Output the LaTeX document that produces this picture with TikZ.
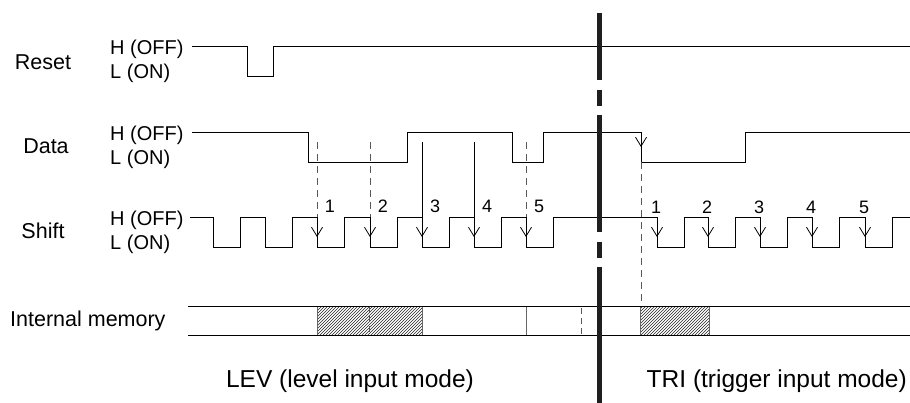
\documentclass[tikz,border=0pt]{standalone}
\usepackage{fontspec}
\setmainfont{Liberation Sans}
\usetikzlibrary{arrows.meta,patterns,positioning}

\tikzset{
  wave/.style={line width=0.9pt},
  signame/.style={font=\fontsize{21.5}{25}\selectfont,inner sep=0pt},
  lvl/.style={font=\fontsize{20}{24}\selectfont,anchor=west,inner sep=0pt},
  num/.style={font=\fontsize{18}{21}\selectfont,inner sep=0pt},
  modelabel/.style={font=\fontsize{24.5}{29}\selectfont,inner sep=0pt},
  trig/.style={line width=0.8pt,-{Straight Barb[length=9pt,width=11pt]}},
  guide/.style={line width=0.8pt,dash pattern=on 7pt off 5pt,draw=black!65},
  border/.style={line width=5pt,draw=black!88},
  hatch/.style={pattern=north east lines,pattern color=black!85,draw=black!60,line width=0.6pt}
}

\begin{document}
\begin{tikzpicture}[x=1pt,y=-1pt]
  \useasboundingbox (0,0) rectangle (910,403);

  \node[signame] (reset) at (43,62) {Reset};
  \node[signame] (data) at (46,146) {Data};
  \node[signame] (shift) at (43,231) {Shift};
  \node[signame,anchor=west] (mem) at (10,321) {Internal memory};
  \foreach \s/\h in {reset/46,data/132,shift/217} {
    \node[lvl] (\s H) at (110,\h+3) {H (OFF)};
    \node[lvl] (\s L) at (110,\h+27) {L (ON)};
  }

  % waveforms
  \draw[wave] (192,46) -| (247,76) -| (273,46) -- (910,46);
  \draw[wave] (192,132) -| (308,162) -| (407,132) -| (512,162) -| (543,132)
    -| (641,162) -| (745,132) -- (910,132);
  \draw[wave] (190,217) \foreach \f in {213,265,317,370,422,474,526,657,708,760,812,865} {
    -| (\f,247) -| (\f+27,217) } -- (910,217);

  % level input mode
  \foreach \f/\n in {317/1,370/2,526/5} {
    \draw[guide] (\f,142) -- (\f,217);
    \draw[trig] (\f,217) -- (\f,237);
  }
  \foreach \f/\n in {422/3,474/4}
    \draw[trig] (\f,142) -- (\f,237);
  \foreach \f/\n in {317/1,370/2,422/3,474/4,526/5}
    \node[num] (lev\n) at (\f+13,206) {\n};

  % trigger input mode
  \draw[trig] (641,132) -- (641,147);
  \draw[guide] (641,162) -- (641,306);
  \foreach \f/\n in {657/1,708/2,760/3,812/4,865/5} {
    \draw[trig] (\f,217) -- (\f,237);
    \node[num] (tri\n) at (\f-1,207) {\n};
  }

  % internal memory
  \draw[hatch] (317,306) rectangle (422,335);
  \draw[hatch] (640,306) rectangle (709,335);
  \draw[line width=0.8pt,draw=black!60] (526,306) -- (526,335);
  \draw[guide,dash pattern=on 6pt off 4pt] (369,306) -- (369,335);
  \draw[guide,dash pattern=on 6pt off 4pt] (581,308) -- (581,335);
  \draw[wave] (188,306) -- (910,306);
  \draw[wave] (188,335) -- (910,335);

  % mode separator
  \foreach \a/\b in {13/80,90/106,115/232,242/258,267/403}
    \draw[border] (599,\a) -- (599,\b);

  \node[modelabel] (lev) at (350,381) {LEV (level input mode)};
  \node[modelabel,anchor=east] (tri) at (907,381) {TRI (trigger input mode)};
\end{tikzpicture}
\end{document}
